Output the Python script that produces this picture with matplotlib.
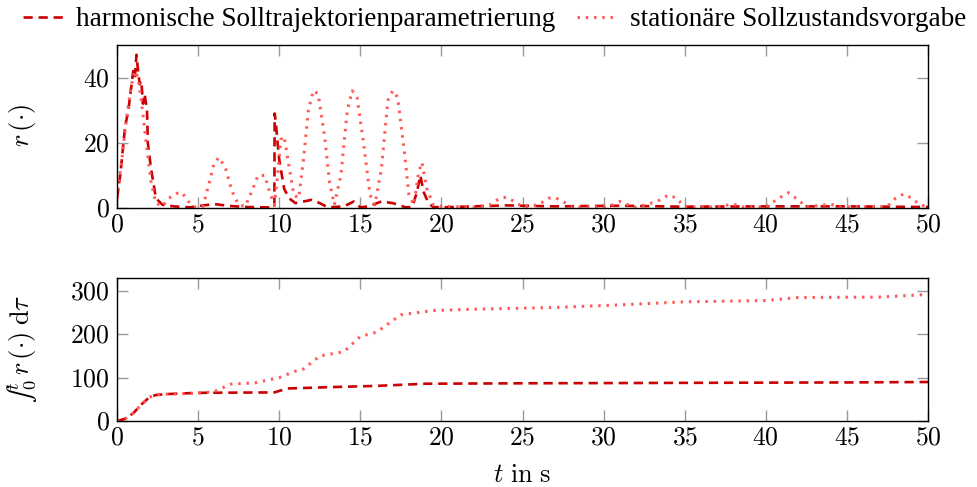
import numpy as np
import matplotlib
matplotlib.use("Agg")
import matplotlib.pyplot as plt
from matplotlib.ticker import FuncFormatter
from matplotlib.lines import Line2D

plt.rcParams['mathtext.fontset'] = 'cm'
plt.rcParams['font.family'] = ['Liberation Serif', 'DejaVu Serif']

# r(t) harmonic trajectory parametrisation (dashed)
t_harm = [0.0, 0.2, 0.5, 0.7, 0.9, 1.0, 1.1, 1.2, 1.3, 1.4, 1.5, 1.6, 1.7, 1.85, 1.9, 2.1,
          2.4, 2.8, 3.5, 4.5, 5.0, 6.0, 7.0, 8.0, 9.0, 9.7, 9.72, 9.8, 9.9, 10.0, 10.3, 10.6,
          11.0, 12.0, 12.5, 13.0, 14.0, 14.6, 15.0, 15.5, 16.3, 17.0, 17.8, 18.2, 18.5, 18.7,
          18.9, 19.2, 19.5, 20.0, 22.0, 24.0, 27.0, 31.0, 35.0, 40.0, 45.0, 50.0]
r_harm = [3, 10, 25, 30, 38, 42, 40, 47, 42, 38, 39, 32, 35, 30, 20, 12,
          3, 1, 0.5, 0.2, 0.6, 1.2, 0.6, 0.3, 0.2, 0.2, 29, 26, 20, 15, 6, 3,
          1.5, 2.5, 1.5, 0.2, 0.5, 2, 0.2, 0.5, 2, 1.5, 0.2, 0.3, 5, 10,
          5, 1.5, 0.3, 0.2, 0.5, 0.8, 0.5, 0.7, 0.4, 0.5, 0.5, 0.3]

# r(t) stationary setpoint (dotted)
t_stat = [0.0, 0.3, 0.6, 0.9, 1.1, 1.3, 1.5, 1.8, 2.1, 2.4, 2.8, 3.2, 3.7, 4.0, 4.4, 4.8,
          5.3, 5.7, 6.0, 6.3, 6.7, 7.1, 7.5, 7.9, 8.3, 8.7, 9.1, 9.4, 9.7, 9.9, 10.1, 10.3,
          10.6, 10.9, 11.2, 11.5, 11.8, 12.1, 12.4, 12.8, 13.1, 13.4, 13.8, 14.2, 14.5, 14.8,
          15.2, 15.6, 15.9, 16.3, 16.7, 17.0, 17.3, 17.7, 18.0, 18.3, 18.6, 18.8, 19.1, 19.5,
          20.0, 22.0, 23.0, 23.6, 24.0, 24.5, 25.0, 26.0, 26.6, 27.0, 27.5, 28.0, 30.0, 30.6,
          31.0, 31.5, 32.0, 33.3, 34.0, 34.5, 35.0, 37.0, 38.0, 38.5, 40.0, 40.8, 41.4, 42.0,
          42.5, 44.0, 44.5, 47.5, 48.0, 48.5, 49.0, 49.5, 50.0]
r_stat = [3, 15, 28, 38, 42, 40, 33, 20, 8, 1.5, 0.5, 3, 4.5, 4.8, 2, 0.3,
          0.5, 8, 14, 15.5, 12, 5, 1, 0.5, 5, 10, 10, 5, 1, 10, 21, 22,
          13, 4, 3, 15, 30, 36, 35, 22, 8, 1, 10, 30, 36, 34,
          20, 4, 1, 12, 33, 36, 34, 18, 4, 1, 11, 14, 6, 1,
          0.5, 0.3, 1, 3, 3.3, 2, 0.3, 1, 3, 3.2, 2, 0.3, 0.3, 1,
          2, 1, 0.2, 2, 4, 3, 0.3, 0.3, 1.2, 0.3, 0.3, 3, 4.7, 2.5,
          0.3, 1.2, 0.3, 0.5, 3, 4.3, 3, 1, 0.3]

# integrals
t_int_harm = [0, 0.5, 1.0, 1.5, 2.0, 2.4, 3, 5, 9.7, 10.5, 13, 16, 19, 25, 35, 45, 50]
i_harm = [0, 5, 18, 38, 55, 60, 62, 65, 66, 75, 78, 81, 86, 87, 88, 89, 90]
t_int_stat = [0, 0.5, 1.0, 1.5, 2.0, 2.4, 3, 5, 6, 7, 8.5, 10, 11, 11.5, 12.5, 14, 15, 16,
              17.5, 19.5, 22, 27, 31, 35, 40, 42, 47, 50]
i_stat = [0, 5, 18, 38, 55, 60, 62, 64, 68, 85, 88, 100, 115, 120, 150, 160, 195, 205,
          245, 255, 258, 262, 268, 275, 278, 285, 286, 292]

c_harm = '#cc0000'
c_stat = '#ff5a5a'
dash = (0, (3.5, 2.2))
dots = (0, (0.8, 1.9))

fig = plt.figure(figsize=(9.78, 4.87), dpi=100)
ax1 = fig.add_axes([117 / 978, 1 - 208 / 487, 811 / 978, 163 / 487])
ax2 = fig.add_axes([117 / 978, 1 - 421 / 487, 811 / 978, 143 / 487])

ax1.plot(t_harm, r_harm, color=c_harm, lw=1.9, ls=dash)
ax1.plot(t_stat, r_stat, color=c_stat, lw=2.2, ls=dots)
ax2.plot(t_int_harm, i_harm, color=c_harm, lw=1.9, ls=dash)
ax2.plot(t_int_stat, i_stat, color=c_stat, lw=2.2, ls=dots)

fmt = FuncFormatter(lambda v, p: '$%g$' % v)
for ax, ylim, yt in [(ax1, (0, 50), [0, 20, 40]), (ax2, (0, 330), [0, 100, 200, 300])]:
    ax.set_xlim(0, 50)
    ax.set_ylim(*ylim)
    ax.set_xticks(np.arange(0, 51, 5))
    ax.set_yticks(yt)
    ax.xaxis.set_major_formatter(fmt)
    ax.yaxis.set_major_formatter(fmt)
    ax.tick_params(direction='in', length=8, width=1, color='#999999', labelsize=18.5,
                   top=True, right=True, pad=5)
    for s in ax.spines.values():
        s.set_linewidth(1)

fig.text(23 / 978, 1 - 126 / 487, r'$r\,(\cdot)$', fontsize=19, rotation=90,
         ha='center', va='center')
fig.text(23 / 978, 1 - 349 / 487, '$\u222b_0^t\\, r\\,(\\cdot)\\;\\mathrm{d}\\tau$', fontsize=19,
         rotation=90, ha='center', va='center')
fig.text(0.5 * (117 + 928) / 978, 1 - 476 / 487, r'$t\ \mathrm{in\ s}$', fontsize=19,
         ha='center', va='center')

handles = [Line2D([], [], color=c_harm, lw=1.9, ls=dash),
           Line2D([], [], color=c_stat, lw=2.2, ls=dots)]
fig.legend(handles, ['harmonische Solltrajektorienparametrierung', 'stationäre Sollzustandsvorgabe'],
           loc='center', bbox_to_anchor=(0.506, 1 - 20 / 487), ncol=2, frameon=False,
           fontsize=19.5, handlelength=1.5, columnspacing=0.8, handletextpad=0.45)

fig.savefig('out.png', dpi=100)
